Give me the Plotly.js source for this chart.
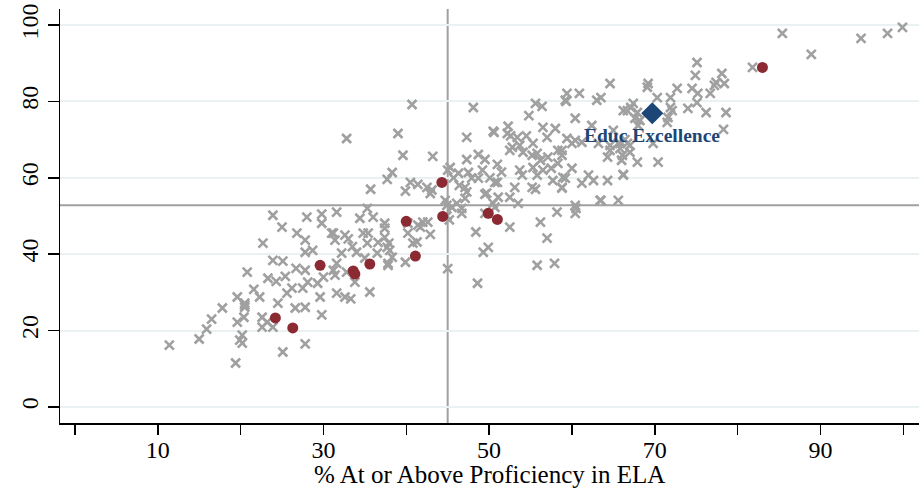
<!DOCTYPE html>
<html>
<head>
<meta charset="utf-8">
<script src="https://cdn.plot.ly/plotly-3.0.1.min.js"></script>
<style>html,body{margin:0;padding:0;background:#fff;}#chart{width:924px;height:489px;}</style>
</head>
<body>
<div id="chart"></div>
<script>
// Other schools (gray x)
const otherX = [11.4,15.0,15.9,16.5,17.8,19.4,19.6,19.6,20.2,19.9,20.2,20.5,20.5,20.8,21.6,22.3,22.6,22.6,23.2,22.7,23.3,23.9,23.9,23.9,24.3,24.5,25.0,25.1,25.1,25.4,25.6,26.2,26.6,26.7,26.8,27.5,27.8,27.8,27.8,27.8,27.8,28.0,28.1,28.7,29.3,29.6,29.8,29.8,29.8,30.0,31.0,31.4,31.2,31.6,31.6,31.6,31.2,32.2,32.6,32.6,32.8,33.8,31.4,33.3,20.4,20.5,
32.8,39.0,40.7,39.6,43.2,38.3,37.7,35.7,40.5,41.4,39.9,42.5,42.9,43.1,34.4,35.3,36.0,37.4,37.4,40.2,40.2,41.7,42.0,42.6,42.9,41.4,40.8,41.3,39.9,34.8,35.4,35.3,36.6,36.5,37.4,37.7,38.0,37.9,38.3,37.8,37.8,35.6,33.0,33.5,34.0,35.0,
45.3,45.0,46.3,47.5,47.9,49.2,48.7,51.0,47.1,47.3,49.5,44.7,44.9,45.5,46.1,46.7,47.1,46.7,50.5,50.7,49.5,48.4,49.3,49.9,45.0,48.6,47.3,48.1,47.3,48.7,49.5,50.5,45.7,46.4,44.9,45.2,
50.6,52.2,52.6,53.4,57.0,52.5,53.7,54.1,55.3,55.2,55.8,56.2,57.1,58.3,58.3,53.7,54.0,55.3,55.8,53.1,55.2,55.6,57.7,58.8,59.2,50.7,51.1,52.5,53.5,58.2,60.5,52.5,56.2,57.0,55.8,57.9,54.8,55.6,56.4,56.5,58.0,59.3,52.3,51.0,51.5,50.1,56.5,57.5,54.5,52.8,49.7,
59.4,59.2,60.9,63.0,63.5,64.6,60.4,62.4,59.4,60.4,61.2,60.0,58.8,58.8,60.0,58.9,58.8,61.2,62.0,62.6,64.3,66.2,66.2,63.5,65.6,60.4,60.4,65.0,64.6,64.3,65.6,66.7,67.0,66.4,65.8,66.1,67.0,67.9,70.4,69.8,67.4,67.1,66.2,66.7,67.9,67.6,68.2,68.0,69.2,69.1,70.3,71.9,71.9,72.1,71.6,71.5,72.7,74.5,75.2,75.1,74.0,74.9,75.1,77.4,78.4,77.2,76.7,78.1,76.2,78.6,78.3,81.8,85.4,88.9,94.9,98.1,99.9,
63.2,64.6,65.8,66.0,63.4];
const otherY = [16.2,17.8,20.4,23.0,25.9,11.5,22.2,28.8,18.8,17.5,16.7,27.2,26.1,35.3,30.8,28.8,23.5,20.9,22.2,42.9,33.7,38.4,20.9,50.2,32.9,27.2,47.1,38.2,14.4,34.2,29.8,31.1,25.9,36.3,45.5,31.1,43.7,40.5,35.8,26.1,16.5,49.7,32.7,41.0,32.4,28.8,50.5,48.1,24.1,34.0,45.5,43.7,35.8,37.6,29.8,51.0,45.5,40.3,45.0,28.8,35.3,32.7,34.5,28.3,23.5,26.7,
70.3,71.6,79.2,65.9,65.6,61.4,59.6,57.0,58.8,58.3,56.5,57.5,55.9,56.8,49.4,52.0,49.7,48.1,46.8,48.1,45.5,47.1,48.4,48.4,45.2,47.6,42.9,43.2,37.9,45.5,45.5,42.9,43.1,40.3,44.4,41.8,41.0,42.9,39.2,37.6,37.1,30.1,44.0,42.0,40.5,39.0,
62.7,62.0,61.2,61.4,59.9,62.0,59.9,58.8,57.5,56.3,55.7,54.1,52.8,52.3,53.3,52.0,54.6,50.7,53.3,52.3,50.7,45.8,40.5,41.8,36.2,32.4,70.6,78.4,64.8,66.1,64.8,72.2,60.0,58.0,50.0,49.0,
71.9,71.6,71.0,70.6,70.6,67.2,68.5,66.7,69.0,65.9,66.4,64.6,65.4,67.2,63.8,62.0,60.7,62.7,60.7,57.5,57.5,57.0,59.3,57.3,59.9,58.8,54.9,54.9,53.3,51.0,52.0,47.1,48.4,44.2,37.1,37.6,76.3,79.5,78.7,73.2,72.9,80.0,73.5,63.5,61.5,60.0,62.0,62.5,71.0,68.0,56.0,
82.1,80.3,82.1,80.3,81.0,84.7,75.6,73.7,70.3,69.8,69.3,69.0,67.2,65.9,62.5,60.1,57.5,58.6,60.7,59.3,59.3,60.9,60.7,54.1,54.1,52.8,50.7,72.4,68.5,65.4,69.0,69.0,68.5,70.0,67.7,65.9,66.7,64.1,64.1,69.0,79.5,78.4,77.6,77.6,77.1,75.6,75.0,73.7,84.7,83.7,81.0,81.0,78.4,77.6,75.8,74.5,83.4,83.4,82.1,79.7,78.2,86.8,90.2,85.0,84.7,84.2,82.1,87.3,77.1,77.1,72.7,88.9,97.8,92.3,96.5,97.8,99.4,
69.0,67.2,69.0,64.6,54.1];

// Comparison schools (red)
const peerX = [24.2,26.3,29.6,33.6,33.8,35.6,40.0,41.1,44.3,44.4,49.9,51.0,83.0];
const peerY = [23.3,20.7,37.1,35.6,34.8,37.4,48.6,39.5,58.8,49.9,50.7,49.1,88.9];

// Highlighted school
const focusName = ["Educ Excellence"];
const focusX = [69.7];
const focusY = [76.9];

// Reference lines (averages)
const avgX = [45.0];
const avgY = [52.8];

const xTickVals = [0,10,20,30,40,50,60,70,80,90,100];
const xTickText = ["","10","","30","","50","","70","","90",""];
const yTickVals = [0,20,40,60,80,100];
const xTitle = "% At or Above Proficiency in ELA";

const serif = "Liberation Serif, Times New Roman, serif";

const traces = [
  {x: otherX, y: otherY, type: "scatter", mode: "markers", hoverinfo: "skip",
   marker: {symbol: "x-thin", size: 9, color: "#a0a0a0", line: {width: 2.6, color: "#a0a0a0"}}},
  {x: peerX, y: peerY, type: "scatter", mode: "markers",
   marker: {symbol: "circle", size: 11, color: "#8b2a33"}},
  {x: focusX, y: focusY, type: "scatter", mode: "markers",
   marker: {symbol: "diamond", size: 17, color: "#1b4675"}}
];

const layout = {
  width: 924, height: 489,
  margin: {l: 60, r: 5, t: 9, b: 66},
  paper_bgcolor: "#ffffff", plot_bgcolor: "#ffffff",
  showlegend: false,
  font: {family: serif, color: "#000", size: 24},
  xaxis: {
    range: [-1.8, 101.9], tickmode: "array", tickvals: xTickVals, ticktext: xTickText,
    ticks: "outside", ticklen: 10, tickwidth: 1.5, tickcolor: "#000",
    showline: true, linecolor: "#000", linewidth: 1.5, showgrid: false, zeroline: false,
    ticklabelstandoff: -5,
    tickfont: {family: serif, size: 24, color: "#000"}
  },
  yaxis: {
    range: [-4.2, 104.2], tickmode: "array", tickvals: yTickVals,
    ticks: "outside", ticklen: 11, tickwidth: 1.5, tickcolor: "#000", tickangle: -90,
    showline: true, linecolor: "#000", linewidth: 1.5,
    showgrid: true, gridcolor: "#e9f1f3", gridwidth: 2, zeroline: false,
    tickfont: {family: serif, size: 24, color: "#000"}
  },
  shapes: [
    {type: "line", xref: "x", yref: "paper", x0: avgX[0], x1: avgX[0], y0: 0, y1: 1,
     line: {color: "#a0a0a0", width: 2}, layer: "below"},
    {type: "line", xref: "paper", yref: "y", x0: 0, x1: 1, y0: avgY[0], y1: avgY[0],
     line: {color: "#a0a0a0", width: 2}, layer: "below"}
  ],
  annotations: [
    {x: focusX[0], y: focusY[0], xref: "x", yref: "y", text: "<b>" + focusName[0] + "</b>",
     showarrow: false, yshift: -22, font: {family: serif, size: 19.5, color: "#1b4675"}},
    {x: 0.5, y: -0.125, xref: "paper", yref: "paper", text: xTitle, showarrow: false,
     xanchor: "center", yanchor: "middle", font: {family: serif, size: 25, color: "#000"}}
  ]
};

Plotly.newPlot("chart", traces, layout, {displayModeBar: false, staticPlot: true});
</script>
</body>
</html>
